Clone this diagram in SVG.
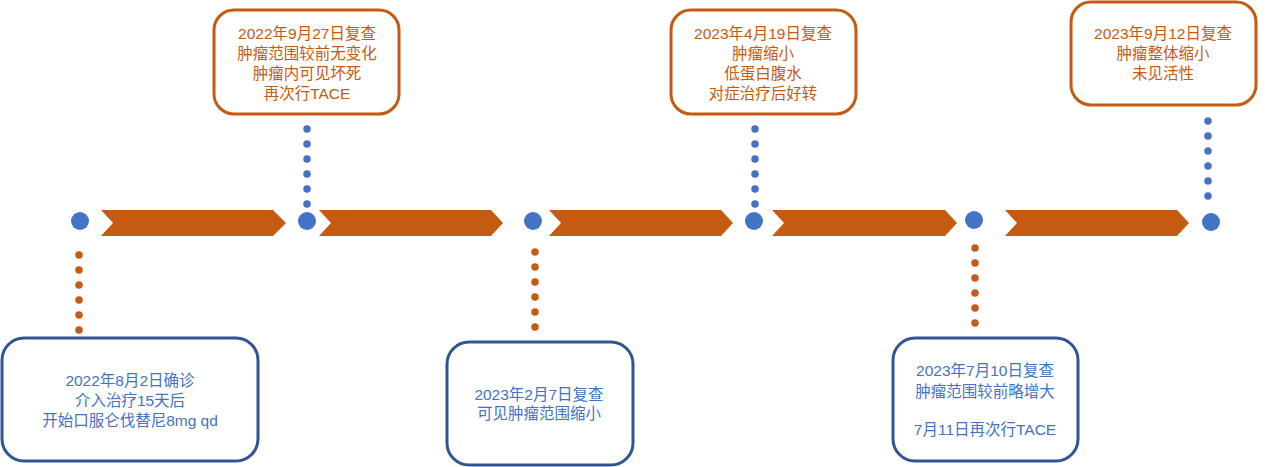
<svg xmlns="http://www.w3.org/2000/svg" width="1269" height="467" viewBox="0 0 1269 467">
<style>
.bg{fill:#fff}
.chev{fill:#C55A11}
.dot{fill:#4472C4}
.ob{fill:#fff;stroke:#C55A11;stroke-width:3}
.bb{fill:#fff;stroke:#2F5597;stroke-width:3}
.ot{fill:#C55A11}
.bt{fill:#4472C4}
text{font-family:"Liberation Sans","Noto Sans CJK SC",sans-serif;font-size:15.5px;text-anchor:middle;dominant-baseline:central}
.cb{fill:none;stroke:#4472C4;stroke-width:7.5;stroke-linecap:round;stroke-dasharray:0 15}
.co{fill:none;stroke:#C55A11;stroke-width:7.5;stroke-linecap:round;stroke-dasharray:0 15}
</style>
<rect class="bg" x="0" y="0" width="1269" height="467"/>
<g id="timeline">
<polygon class="chev" points="101,210 273,210 286,223 273,236 101,236 113,223"/>
<polygon class="chev" points="319,210 491,210 503,223 491,236 319,236 331,223"/>
<polygon class="chev" points="549,210 721,210 733,223 721,236 549,236 561,223"/>
<polygon class="chev" points="772,210 945,210 957,223 945,236 772,236 784,223"/>
<polygon class="chev" points="1005,210 1177,210 1189,223 1177,236 1005,236 1017,223"/>
</g>
<g id="connectors">
<line class="co" x1="79" y1="255" x2="79" y2="332"/>
<line class="cb" x1="307" y1="129" x2="307" y2="206"/>
<line class="co" x1="535" y1="252" x2="535" y2="329"/>
<line class="cb" x1="755" y1="129" x2="755" y2="206"/>
<line class="co" x1="975" y1="248" x2="975" y2="325"/>
<line class="cb" x1="1208" y1="121" x2="1208" y2="198"/>
</g>
<g id="points">
<circle class="dot" cx="80" cy="221" r="9"/>
<circle class="dot" cx="307" cy="221" r="9"/>
<circle class="dot" cx="533" cy="221" r="9"/>
<circle class="dot" cx="754" cy="221" r="9"/>
<circle class="dot" cx="974" cy="220" r="9"/>
<circle class="dot" cx="1211" cy="222" r="9"/>
</g>
<g id="n1">
<rect class="bb" x="2" y="338" width="256" height="123" rx="22"/>
<text class="bt" x="130" y="380">2022年8月2日确诊</text>
<text class="bt" x="130" y="400">介入治疗15天后</text>
<text class="bt" x="130" y="420">开始口服仑伐替尼8mg qd</text>
</g>
<g id="n2">
<rect class="ob" x="214" y="10" width="185" height="104" rx="20"/>
<text class="ot" x="307" y="33">2022年9月27日复查</text>
<text class="ot" x="307" y="53">肿瘤范围较前无变化</text>
<text class="ot" x="307" y="73">肿瘤内可见坏死</text>
<text class="ot" x="307" y="93">再次行TACE</text>
</g>
<g id="n3">
<rect class="bb" x="447" y="342" width="186" height="123" rx="22"/>
<text class="bt" x="539" y="394">2023年2月7日复查</text>
<text class="bt" x="539" y="413">可见肿瘤范围缩小</text>
</g>
<g id="n4">
<rect class="ob" x="671" y="10" width="185" height="104" rx="20"/>
<text class="ot" x="763" y="33">2023年4月19日复查</text>
<text class="ot" x="763" y="53">肿瘤缩小</text>
<text class="ot" x="763" y="73">低蛋白腹水</text>
<text class="ot" x="763" y="93">对症治疗后好转</text>
</g>
<g id="n5">
<rect class="bb" x="893" y="338" width="185" height="123" rx="22"/>
<text class="bt" x="985" y="370">2023年7月10日复查</text>
<text class="bt" x="985" y="391">肿瘤范围较前略增大</text>
<text class="bt" x="985" y="429">7月11日再次行TACE</text>
</g>
<g id="n6">
<rect class="ob" x="1071" y="2" width="185" height="103" rx="20"/>
<text class="ot" x="1163" y="33">2023年9月12日复查</text>
<text class="ot" x="1163" y="53">肿瘤整体缩小</text>
<text class="ot" x="1163" y="73">未见活性</text>
</g>
</svg>
